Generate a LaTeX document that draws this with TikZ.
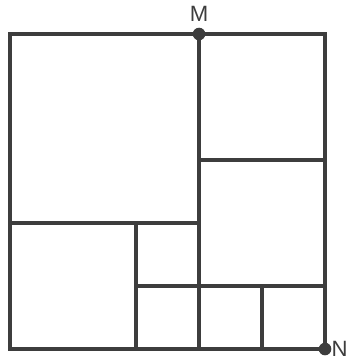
\documentclass[tikz,border=0pt]{standalone}
\usepackage{fontspec}
\setmainfont{Liberation Sans}
\usetikzlibrary{positioning}

\begin{document}
\begin{tikzpicture}[color=black!76,line width=1.45pt,
  lab/.style={font=\fontsize{10}{12}\selectfont,inner sep=0pt}]
\useasboundingbox (-0.159,-0.19) rectangle (5.349,5.54);
% outer square and the cuts
\draw (0,0) rectangle (5,5);
\draw (3,0) -- (3,5);
\draw (3,3) -- (5,3);
\draw (0,2) -- (3,2);
\draw (2,0) -- (2,2);
\draw (2,1) -- (5,1);
\draw (4,0) -- (4,1);
\coordinate (M) at (3,5);
\coordinate (N) at (5,0);
\foreach \p in {M,N}
\fill (\p) circle [radius=0.1];
\node[lab,above=1.8mm of M] (mlab) {M};
\node[lab,right=0.8mm of N] (nlab) {N};
\end{tikzpicture}
\end{document}
